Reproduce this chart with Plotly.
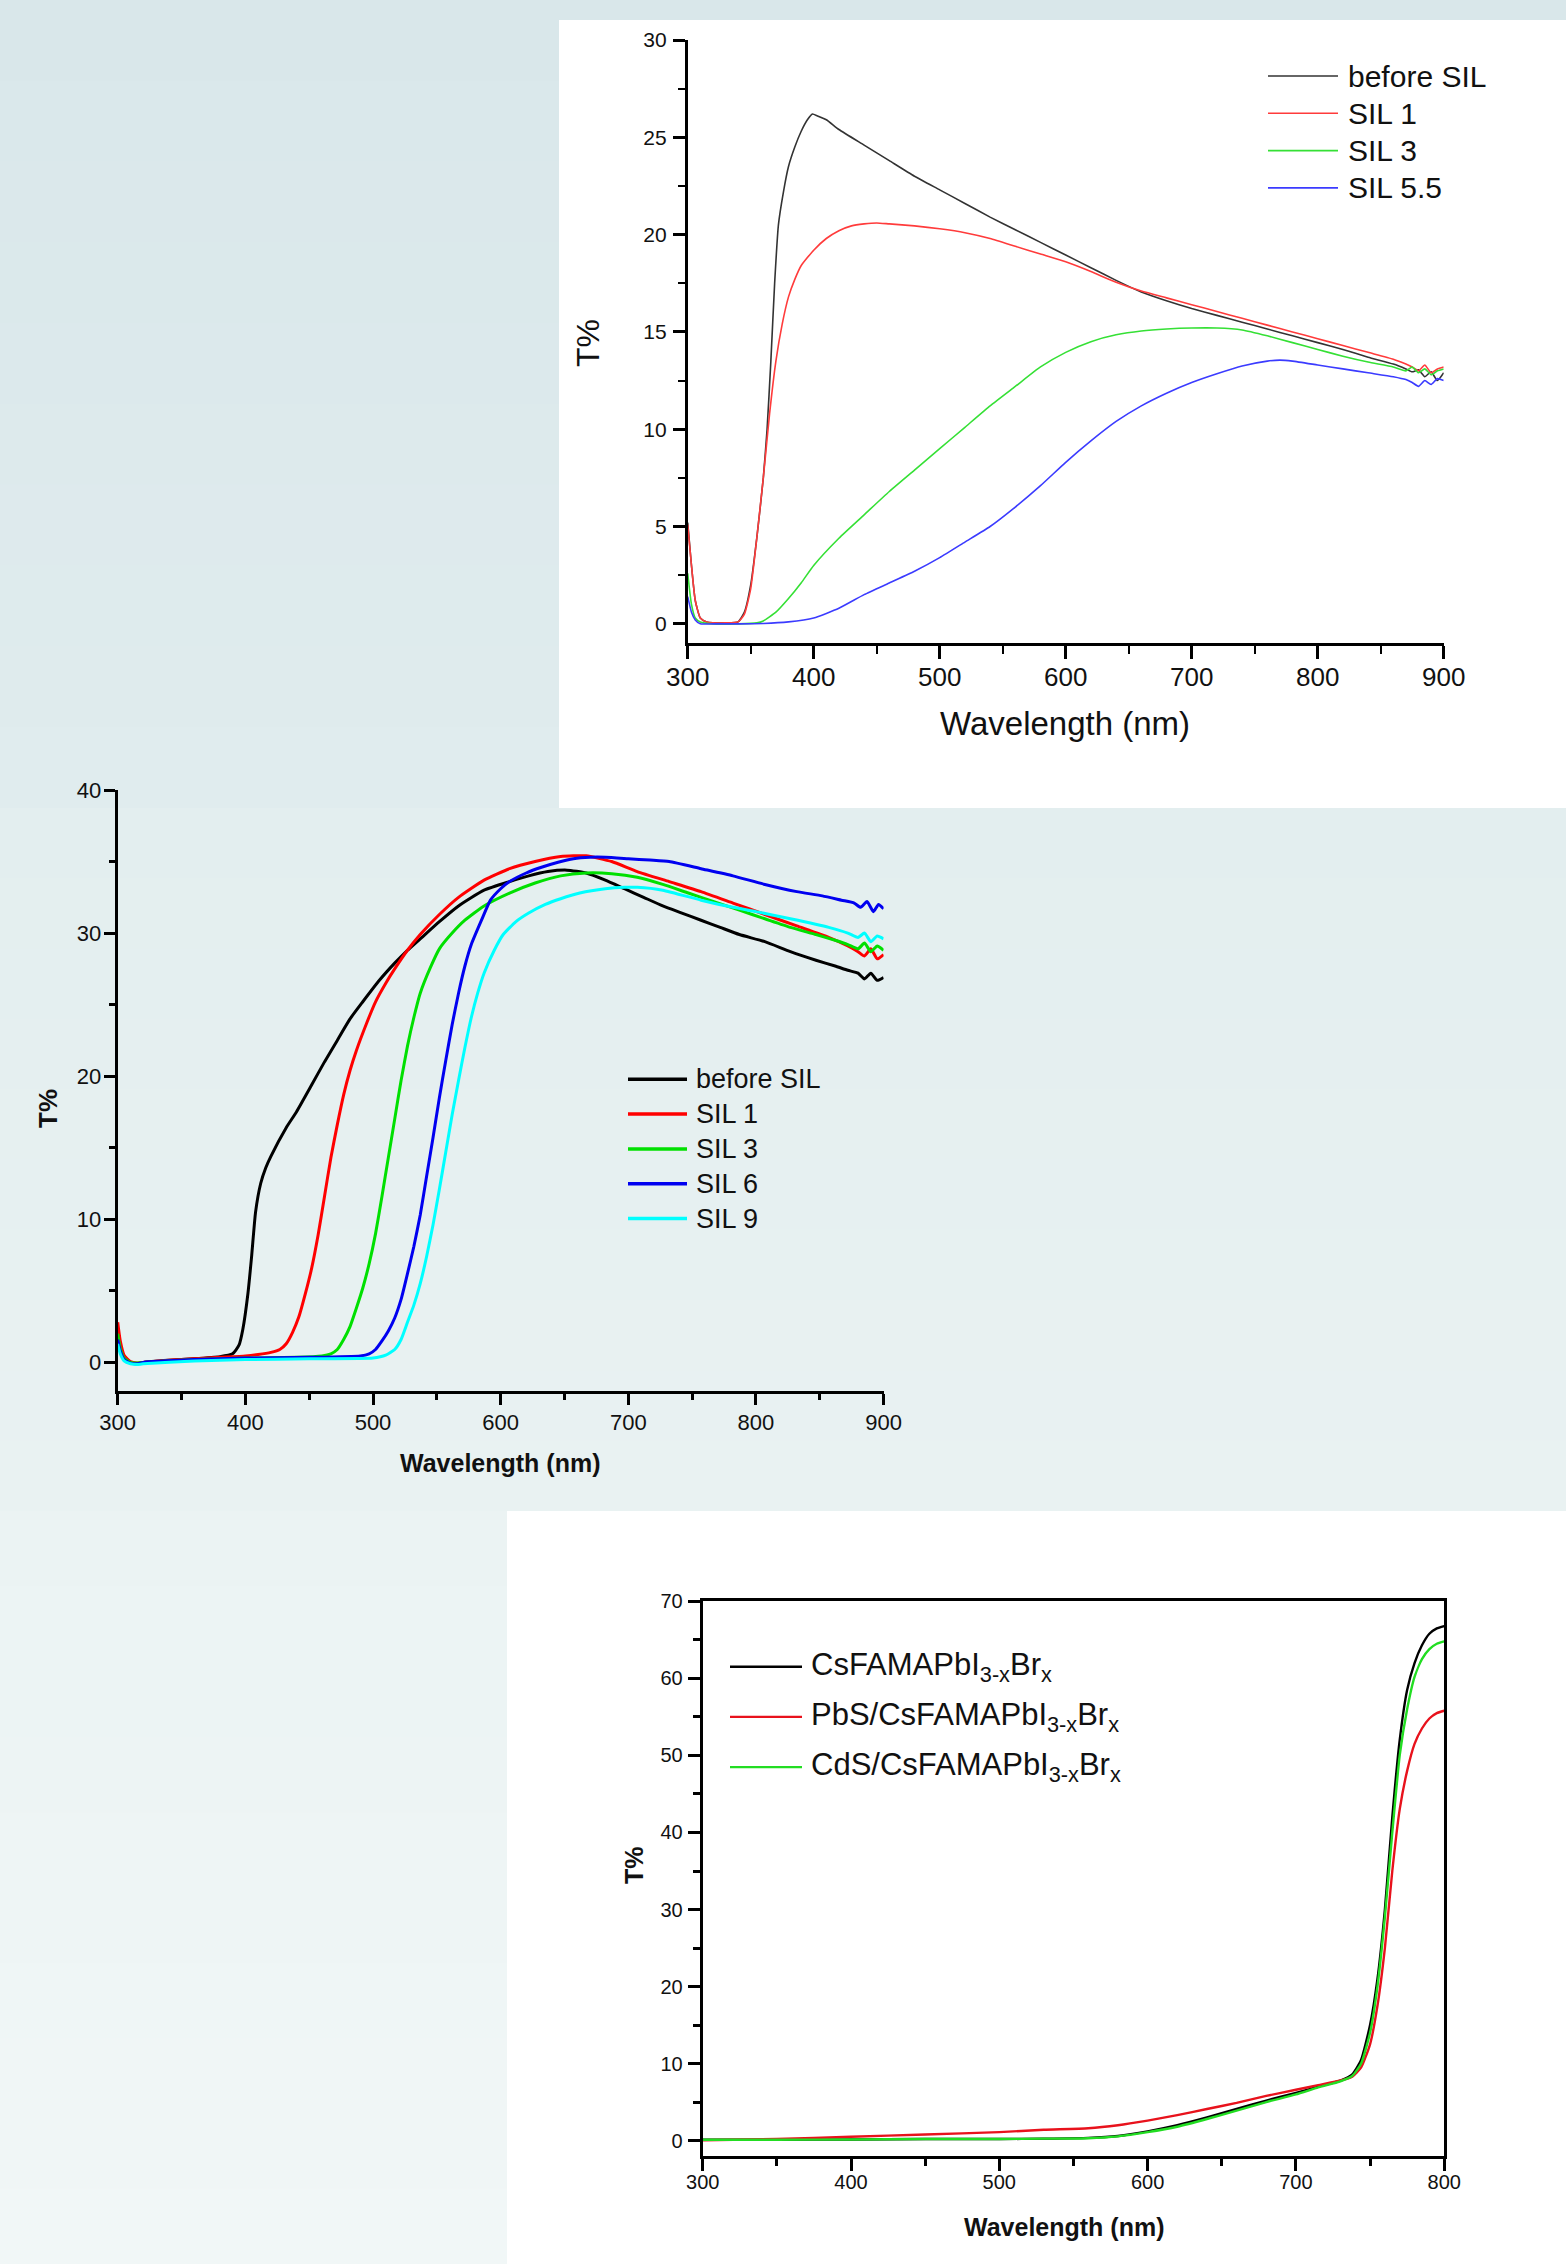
import plotly.graph_objects as go

# ---------------- DATA ----------------
# Panel 1 (top): T% vs wavelength, before SIL / SIL 1 / SIL 3 / SIL 5.5
p1_names = ["before SIL", "SIL 1", "SIL 3", "SIL 5.5"]
p1_colors = ["#333333", "#ff3b3b", "#35e035", "#3b3bff"]

p1_before_wl = [300, 303, 306, 310, 315, 320, 330, 340, 345, 350, 355, 360, 363, 366, 369, 372, 376, 380, 385,
                390, 395, 399, 403, 410, 420, 440, 460, 480, 500, 520, 540, 560, 580, 600, 620, 640, 660, 680,
                700, 720, 740, 760, 780, 800, 820, 840, 860, 870, 875, 880, 885, 890, 895, 900]
p1_before_T = [5.2, 3.0, 1.2, 0.3, 0.1, 0.05, 0.05, 0.1, 0.6, 2.0, 4.5, 7.5, 10.0, 13.5, 17.5, 20.5, 22.2, 23.5, 24.5,
               25.3, 25.9, 26.2, 26.1, 25.9, 25.4, 24.6, 23.8, 23.0, 22.3, 21.6, 20.9, 20.25, 19.6, 18.95, 18.3, 17.65,
               17.05, 16.6, 16.2, 15.85, 15.5, 15.15, 14.8, 14.45, 14.1, 13.7, 13.35, 13.1, 12.95, 13.05, 12.7, 12.95,
               12.5, 12.9]

p1_sil1_wl = [300, 303, 306, 310, 315, 320, 330, 340, 345, 350, 355, 360, 365, 370, 375, 380, 385, 390, 400, 410,
              420, 430, 440, 450, 460, 480, 500, 520, 540, 560, 580, 600, 620, 640, 660, 680, 700, 720, 740, 760,
              780, 800, 820, 840, 860, 870, 875, 880, 885, 890, 895, 900]
p1_sil1_T = [5.1, 3.0, 1.2, 0.3, 0.1, 0.05, 0.05, 0.1, 0.5, 1.8, 4.5, 7.5, 10.8, 13.5, 15.4, 16.8, 17.7, 18.4, 19.2,
             19.8, 20.2, 20.45, 20.55, 20.6, 20.55, 20.45, 20.3, 20.1, 19.8, 19.4, 19.0, 18.6, 18.1, 17.55, 17.1,
             16.75, 16.4, 16.05, 15.7, 15.35, 15.0, 14.65, 14.3, 13.95, 13.6, 13.35, 13.2, 13.0, 13.3, 12.9, 13.1,
             13.2]

p1_sil3_wl = [300, 303, 306, 310, 320, 340, 355, 360, 370, 380, 390, 400, 420, 440, 460, 480, 500, 520, 540, 560,
              580, 600, 620, 640, 660, 680, 700, 720, 740, 760, 780, 800, 820, 840, 860, 870, 875, 880, 885, 890,
              895, 900]
p1_sil3_T = [2.6, 1.0, 0.3, 0.1, 0.0, 0.0, 0.05, 0.15, 0.6, 1.3, 2.1, 3.0, 4.4, 5.6, 6.8, 7.9, 9.0, 10.1, 11.2,
             12.2, 13.2, 13.95, 14.5, 14.85, 15.05, 15.15, 15.2, 15.2, 15.1, 14.8, 14.45, 14.1, 13.75, 13.45, 13.2,
             13.0, 13.2, 12.9, 13.1, 12.8, 13.0, 13.1]

p1_sil55_wl = [300, 303, 306, 310, 320, 340, 360, 380, 400, 420, 440, 460, 480, 500, 520, 540, 560, 580, 600, 620,
               640, 660, 680, 700, 720, 740, 760, 770, 780, 800, 820, 840, 860, 870, 875, 880, 885, 890, 895, 900]
p1_sil55_T = [1.4, 0.6, 0.2, 0.0, 0.0, 0.0, 0.02, 0.1, 0.3, 0.8, 1.5, 2.1, 2.7, 3.4, 4.2, 5.0, 6.0, 7.1, 8.3, 9.4,
              10.4, 11.2, 11.85, 12.4, 12.85, 13.25, 13.5, 13.55, 13.5, 13.3, 13.1, 12.9, 12.7, 12.55, 12.4, 12.2,
              12.5, 12.3, 12.6, 12.5]

# Panel 2 (middle): before SIL / SIL 1 / SIL 3 / SIL 6 / SIL 9
p2_names = ["before SIL", "SIL 1", "SIL 3", "SIL 6", "SIL 9"]
p2_colors = ["#000000", "#ff0000", "#00e000", "#0000f0", "#00ffff"]

p2_before_wl = [300, 302, 305, 310, 315, 320, 340, 360, 380, 390, 395, 398, 402, 405, 408, 412, 416, 420, 432, 440,
                452, 462, 472, 482, 492, 505, 517, 527, 537, 552, 567, 587, 607, 622, 637, 652, 667, 682, 697, 712,
                727, 742, 757, 772, 787, 807, 827, 847, 862, 872, 880, 885, 890, 895, 900]
p2_before_T = [2.2, 1.2, 0.4, 0.0, -0.1, 0.0, 0.15, 0.25, 0.4, 0.6, 1.2, 2.3, 4.8, 7.5, 10.5, 12.5, 13.6, 14.4,
               16.4, 17.5, 19.4, 21.0, 22.5, 24.0, 25.2, 26.7, 27.9, 28.8, 29.6, 30.8, 31.9, 33.0, 33.6, 34.0, 34.3,
               34.4, 34.2, 33.7, 33.1, 32.5, 31.9, 31.4, 30.9, 30.4, 29.9, 29.4, 28.7, 28.1, 27.7, 27.4, 27.2, 26.8,
               27.2, 26.7, 26.9]

p2_sil1_wl = [300, 302, 305, 310, 315, 320, 340, 360, 380, 400, 410, 420, 427, 432, 437, 442, 447, 452, 457, 462,
              467, 472, 477, 482, 487, 495, 502, 510, 517, 527, 537, 552, 567, 587, 607, 627, 647, 657, 667, 687,
              707, 732, 757, 782, 807, 832, 857, 872, 880, 885, 890, 895, 900]
p2_sil1_T = [2.8, 1.5, 0.5, 0.05, -0.05, 0.0, 0.15, 0.25, 0.35, 0.45, 0.55, 0.7, 0.9, 1.3, 2.1, 3.2, 4.8, 6.6, 8.9,
             11.6, 14.3, 16.6, 18.7, 20.4, 21.8, 23.7, 25.2, 26.5, 27.5, 28.8, 29.9, 31.3, 32.5, 33.7, 34.5, 35.0,
             35.35, 35.4, 35.4, 35.0, 34.3, 33.6, 32.9, 32.1, 31.3, 30.5, 29.7, 29.1, 28.7, 28.4, 28.9, 28.2, 28.5]

p2_sil3_wl = [300, 302, 305, 310, 315, 320, 360, 400, 440, 460, 467, 472, 477, 482, 487, 492, 497, 502, 507, 512,
              517, 522, 527, 532, 537, 545, 552, 562, 572, 587, 607, 627, 647, 667, 687, 707, 727, 747, 767, 787,
              807, 827, 847, 862, 872, 880, 885, 890, 895, 900]
p2_sil3_T = [2.0, 1.0, 0.3, 0.0, -0.05, 0.0, 0.2, 0.3, 0.35, 0.45, 0.6, 0.9, 1.6, 2.5, 3.8, 5.2, 6.9, 9.0, 11.6,
             14.3, 17.0, 19.7, 22.1, 24.1, 25.8, 27.6, 28.9, 30.0, 30.9, 31.9, 32.8, 33.5, 34.0, 34.2, 34.15, 33.9,
             33.4, 32.8, 32.2, 31.6, 31.0, 30.4, 29.9, 29.5, 29.2, 28.9, 29.3, 28.7, 29.1, 28.8]

p2_sil6_wl = [300, 302, 305, 310, 315, 320, 360, 400, 450, 490, 497, 502, 507, 512, 517, 522, 527, 532, 537, 542,
              547, 552, 557, 562, 567, 572, 577, 585, 592, 600, 607, 620, 632, 645, 657, 670, 682, 700, 717, 732,
              757, 782, 807, 832, 852, 867, 877, 882, 887, 892, 896, 900]
p2_sil6_T = [1.6, 0.8, 0.2, -0.05, -0.1, 0.0, 0.2, 0.3, 0.35, 0.45, 0.6, 0.9, 1.5, 2.2, 3.1, 4.4, 6.2, 8.1, 10.3,
             13.0, 15.7, 18.5, 21.1, 23.6, 25.8, 27.7, 29.2, 30.9, 32.3, 33.1, 33.6, 34.2, 34.6, 34.95, 35.2, 35.3,
             35.3, 35.2, 35.1, 35.0, 34.5, 34.0, 33.4, 32.9, 32.6, 32.3, 32.1, 31.8, 32.2, 31.5, 32.0, 31.7]

p2_sil9_wl = [300, 302, 305, 310, 315, 320, 360, 400, 450, 500, 510, 517, 522, 527, 532, 537, 542, 547, 552, 557,
              562, 567, 572, 577, 582, 587, 595, 602, 612, 622, 635, 647, 662, 682, 697, 707, 727, 757, 782, 800,
              827, 857, 872, 880, 885, 890, 895, 900]
p2_sil9_T = [1.3, 0.6, 0.1, -0.1, -0.15, -0.1, 0.1, 0.2, 0.25, 0.3, 0.5, 0.9, 1.6, 2.8, 4.0, 5.5, 7.4, 9.6, 12.1,
             14.7, 17.3, 19.7, 22.0, 24.1, 25.8, 27.2, 28.8, 29.9, 30.8, 31.4, 32.0, 32.4, 32.8, 33.1, 33.2, 33.2,
             33.0, 32.3, 31.8, 31.5, 31.0, 30.4, 30.0, 29.7, 30.0, 29.4, 29.8, 29.6]

# Panel 3 (bottom): CsFAMAPbI3-xBrx with PbS / CdS layers
p3_names = ["CsFAMAPbI<sub>3-x</sub>Br<sub>x</sub>",
            "PbS/CsFAMAPbI<sub>3-x</sub>Br<sub>x</sub>",
            "CdS/CsFAMAPbI<sub>3-x</sub>Br<sub>x</sub>"]
p3_colors = ["#000000", "#e8121c", "#22dd22"]

p3_wl = [300, 350, 400, 450, 500, 530, 560, 580, 600, 620, 640, 660, 680, 700, 715, 730, 738, 744, 750, 755, 760,
         765, 770, 775, 780, 785, 790, 795, 800]
p3_pero_T = [0.1, 0.1, 0.15, 0.2, 0.2, 0.25, 0.35, 0.6, 1.2, 2.0, 3.0, 4.1, 5.2, 6.2, 7.0, 7.8, 8.6, 10.5, 15.0,
             21.0, 30.0, 42.0, 52.0, 58.5, 62.0, 64.3, 65.8, 66.5, 66.8]
p3_pbs_T = [0.05, 0.2, 0.5, 0.8, 1.1, 1.4, 1.6, 2.0, 2.6, 3.3, 4.1, 4.9, 5.8, 6.6, 7.2, 7.8, 8.3, 9.5, 12.5, 17.5,
            25.0, 35.0, 43.0, 48.0, 51.5, 53.5, 54.8, 55.5, 55.8]
p3_cds_T = [0.1, 0.1, 0.15, 0.2, 0.2, 0.25, 0.3, 0.55, 1.1, 1.8, 2.8, 3.9, 5.0, 6.0, 6.9, 7.7, 8.4, 10.0, 14.0, 20.0,
            29.0, 40.0, 50.0, 56.0, 60.2, 62.5, 63.8, 64.5, 64.8]

# ---------------- LAYOUT HELPERS ----------------
W, H = 1566, 2264
FONT = "Liberation Sans, Arial, sans-serif"


def px(x):
    return x / W


def py(y):
    return 1 - y / H


def mix(c1, c2, t):
    a = [int(c1[i:i + 2], 16) for i in (1, 3, 5)]
    b = [int(c2[i:i + 2], 16) for i in (1, 3, 5)]
    return "#" + "".join("%02x" % round(a[k] + (b[k] - a[k]) * t) for k in range(3))


fig = go.Figure()

p1_series = [(p1_before_wl, p1_before_T), (p1_sil1_wl, p1_sil1_T), (p1_sil3_wl, p1_sil3_T), (p1_sil55_wl, p1_sil55_T)]
for (wl, t), name, col in zip(p1_series, p1_names, p1_colors):
    fig.add_trace(go.Scatter(x=wl, y=t, mode="lines", name=name,
                             line=dict(color=col, width=1.6, shape="spline", smoothing=0.5),
                             xaxis="x", yaxis="y", showlegend=False))

p2_series = [(p2_before_wl, p2_before_T), (p2_sil1_wl, p2_sil1_T), (p2_sil3_wl, p2_sil3_T),
             (p2_sil6_wl, p2_sil6_T), (p2_sil9_wl, p2_sil9_T)]
for (wl, t), name, col in zip(p2_series, p2_names, p2_colors):
    fig.add_trace(go.Scatter(x=wl, y=t, mode="lines", name=name,
                             line=dict(color=col, width=3, shape="spline", smoothing=0.5),
                             xaxis="x2", yaxis="y2", showlegend=False))

for t, name, col in zip([p3_pero_T, p3_pbs_T, p3_cds_T], p3_names, p3_colors):
    fig.add_trace(go.Scatter(x=p3_wl, y=t, mode="lines", name=name,
                             line=dict(color=col, width=2.4, shape="spline", smoothing=0.5),
                             xaxis="x3", yaxis="y3", showlegend=False))

# ---------------- BACKGROUND ----------------
shapes = []


def band_fill(y0, y1, x0, x1, c0, c1, n):
    for i in range(n):
        ya = y0 + (y1 - y0) * i / n
        yb = y0 + (y1 - y0) * (i + 1) / n + 1
        shapes.append(dict(type="rect", xref="paper", yref="paper", x0=px(x0), x1=px(x1),
                           y0=py(min(yb, H)), y1=py(ya), fillcolor=mix(c0, c1, (i + 0.5) / n),
                           line=dict(width=0), layer="below"))


band_fill(0, 808, 0, W, "#d9e7ea", "#e0ecee", 10)
band_fill(808, 1511, 0, W, "#e3eeef", "#e9f2f2", 10)
band_fill(1511, H, 0, W, "#ebf3f3", "#f1f7f7", 10)
shapes.append(dict(type="rect", xref="paper", yref="paper", x0=px(559), x1=1, y0=py(808), y1=py(20),
                   fillcolor="white", line=dict(width=0), layer="below"))
shapes.append(dict(type="rect", xref="paper", yref="paper", x0=px(507), x1=1, y0=0, y1=py(1511),
                   fillcolor="white", line=dict(width=0), layer="below"))

annotations = []


# ---------------- LEGENDS (drawn manually) ----------------
def legend(names, colors, lx0, lx1, tx, y0, dy, size, lw):
    for i, (nm, col) in enumerate(zip(names, colors)):
        yy = y0 + i * dy
        shapes.append(dict(type="line", xref="paper", yref="paper", x0=px(lx0), x1=px(lx1),
                           y0=py(yy), y1=py(yy), line=dict(color=col, width=lw)))
        annotations.append(dict(text=nm, xref="paper", yref="paper", x=px(tx), y=py(yy),
                                xanchor="left", yanchor="middle", showarrow=False,
                                font=dict(family=FONT, size=size, color="#111111")))


legend(p1_names, p1_colors, 1268, 1338, 1346, 76, 37.3, 30, 1.6)
legend(p2_names, p2_colors, 628, 687, 694, 1079.3, 34.8, 27, 3.5)
legend(p3_names, p3_colors, 730, 802, 809, 1666.7, 50.2, 31, 2.4)


# ---------------- AXIS TITLES ----------------
def title(text, x, y, size, bold, angle=0):
    annotations.append(dict(text=("<b>%s</b>" % text) if bold else text, xref="paper", yref="paper",
                            x=px(x), y=py(y), xanchor="center", yanchor="middle", showarrow=False,
                            textangle=angle, font=dict(family=FONT, size=size, color="#111111")))


title("Wavelength (nm)", 1065, 723, 33, False)
title("T%", 588, 343, 32, False, -90)
title("Wavelength (nm)", 500, 1463, 25, True)
title("T%", 48, 1109, 26, True, -90)
title("Wavelength (nm)", 1064, 2227, 25, True)
title("T%", 634, 1865, 25, True, -90)


def ax(dom, anchor, rng, dtick, minor_dtick, fsize, tlen, mlen, lw, mirror=False, standoff=4):
    return dict(domain=dom, anchor=anchor, range=rng, dtick=dtick, tick0=0, showgrid=False, zeroline=False,
                showline=True, linecolor="black", linewidth=lw, mirror=mirror, ticks="outside",
                ticklen=tlen, tickwidth=lw, tickcolor="black", ticklabelstandoff=standoff, automargin=False,
                tickfont=dict(family=FONT, size=fsize, color="#111111"),
                minor=dict(ticks="outside", ticklen=mlen, tickwidth=lw * 0.85, dtick=minor_dtick,
                           tick0=0, tickcolor="black", showgrid=False))


fig.update_layout(
    width=W, height=H, autosize=False,
    margin=dict(l=0, r=0, t=0, b=0, pad=0, autoexpand=False),
    paper_bgcolor="#e4eeef", plot_bgcolor="rgba(0,0,0,0)",
    showlegend=False,
    xaxis=ax([px(687.7), px(1443.7)], "y", [300, 900], 100, 50, 26, 13, 8, 2.8, standoff=-4),
    yaxis=ax([py(643.3), py(40)], "x", [-1, 30], 5, 2.5, 21, 12, 7, 2.8, standoff=2),
    xaxis2=ax([px(117.7), px(883.6)], "y2", [300, 900], 100, 50, 22, 11, 6, 3, standoff=-1),
    yaxis2=ax([py(1391), py(790)], "x2", [-2, 40], 10, 5, 22, 11, 6, 3, standoff=-2),
    xaxis3=ax([px(702.7), px(1444.2)], "y3", [300, 800], 100, 50, 20, 12, 7, 3, mirror=True, standoff=-6),
    yaxis3=ax([py(2156), py(1601.4)], "x3", [-2, 70], 10, 5, 20, 12, 7, 3, mirror=True, standoff=1),
    shapes=shapes,
    annotations=annotations,
)

fig.write_html("out.html", config={"displayModeBar": False},
               post_script="document.body.style.margin='0';document.body.style.overflow='hidden';")
